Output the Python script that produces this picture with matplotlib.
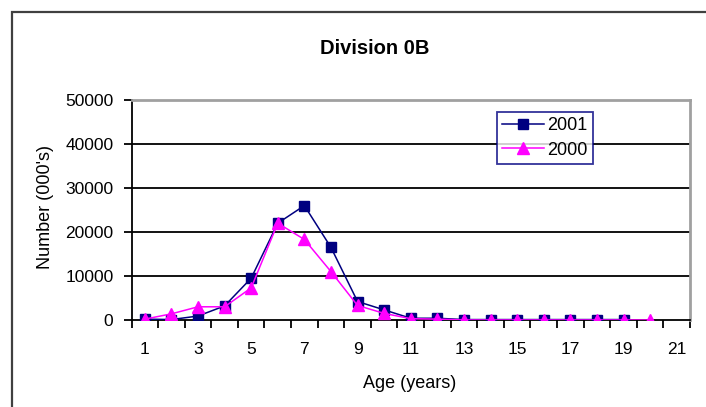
import matplotlib.pyplot as plt
import numpy as np
from matplotlib.lines import Line2D
from matplotlib.patches import Rectangle

plt.rcParams["font.family"] = ["Liberation Sans", "DejaVu Sans"]

# Numbers at age (000's) for Division 0B
ages_2001 = [1, 2, 3, 4, 5, 6, 7, 8, 9, 10, 11, 12, 13, 14, 15, 16, 17, 18, 19]
num_2001 = [200, 100, 900, 3200, 9500, 22000, 26000, 16500, 4200, 2300, 400, 400,
            100, 100, 100, 100, 100, 100, 100]
ages_2000 = [1, 2, 3, 4, 5, 6, 7, 8, 9, 10, 11, 12, 13, 14, 15, 16, 17, 18, 19, 20]
num_2000 = [200, 1400, 3000, 3000, 7300, 22000, 18300, 11000, 3300, 1500, 300, 200,
            0, 0, 0, 0, 0, 0, 0, 0]
x_ticklabels = [1, 3, 5, 7, 9, 11, 13, 15, 17, 19, 21]
y_ticks = [0, 10000, 20000, 30000, 40000, 50000]

fig = plt.figure(figsize=(7.06, 4.07), dpi=100)
W, H = 706, 407

# chart-area frame (runs off the right and bottom edges)
fig.patches.append(Rectangle((12 / W, -0.05), 1.0, (H - 12) / H + 0.05,
                             transform=fig.transFigure, fill=False,
                             edgecolor="#404040", lw=1.6))

ax = fig.add_axes([131.5 / W, 87 / H, (690 - 131.5) / W, 220 / H])

for yv in y_ticks[1:-1]:
    ax.axhline(yv, color="black", lw=1.3, zorder=1)

ax.plot(ages_2001, num_2001, color="#000080", lw=1.1, marker="s", ms=6.5,
        markeredgecolor="#000080", zorder=3)
ax.plot(ages_2000, num_2000, color="#ff00ff", lw=1.1, marker="^", ms=8,
        markeredgecolor="#ff00ff", zorder=4)

ax.set_xlim(0.5, 21.5)
ax.set_ylim(0, 50000)
ax.set_yticks(y_ticks)
ax.set_yticklabels([str(v) for v in y_ticks], fontsize=12.5)
ax.set_xticks(x_ticklabels)
ax.set_xticklabels([str(v) for v in x_ticklabels], fontsize=12.5)
ax.tick_params(axis="x", length=0, pad=16)
ax.tick_params(axis="y", length=6, width=1.3, direction="out", pad=7)
# category boundary ticks on the age axis
ax.set_xticks(np.arange(0.5, 22, 1), minor=True)
ax.tick_params(axis="x", which="minor", length=6, width=1.3, direction="out")

for side in ("top", "right"):
    ax.spines[side].set_color("#a0a0a0")
    ax.spines[side].set_linewidth(2)
for side in ("left", "bottom"):
    ax.spines[side].set_color("black")
    ax.spines[side].set_linewidth(1.3)

fig.text(410 / W, 1 - 384 / H, "Age (years)", ha="center", va="center",
         fontsize=13)
fig.text(45 / W, 1 - 207 / H, "Number (000's)", ha="center", va="center",
         rotation=90, fontsize=13)
fig.text(375 / W, 1 - 48 / H, "Division 0B", ha="center", va="center",
         fontsize=14.5, fontweight="bold")

handles = [
    Line2D([], [], color="#000080", lw=1.1, marker="s", ms=6.5),
    Line2D([], [], color="#ff00ff", lw=1.1, marker="^", ms=8),
]
leg = ax.legend(handles, ["2001", "2000"], loc="upper left",
                bbox_to_anchor=((497 - 131.5) / (690 - 131.5), (320 - 112) / 220),
                fontsize=13, frameon=True, fancybox=False, borderpad=0.3,
                handlelength=2.3, handletextpad=0.2, labelspacing=0.4,
                borderaxespad=0)
leg.get_frame().set_edgecolor("#000080")
leg.get_frame().set_linewidth(1.3)

fig.savefig("out.png", dpi=100)
